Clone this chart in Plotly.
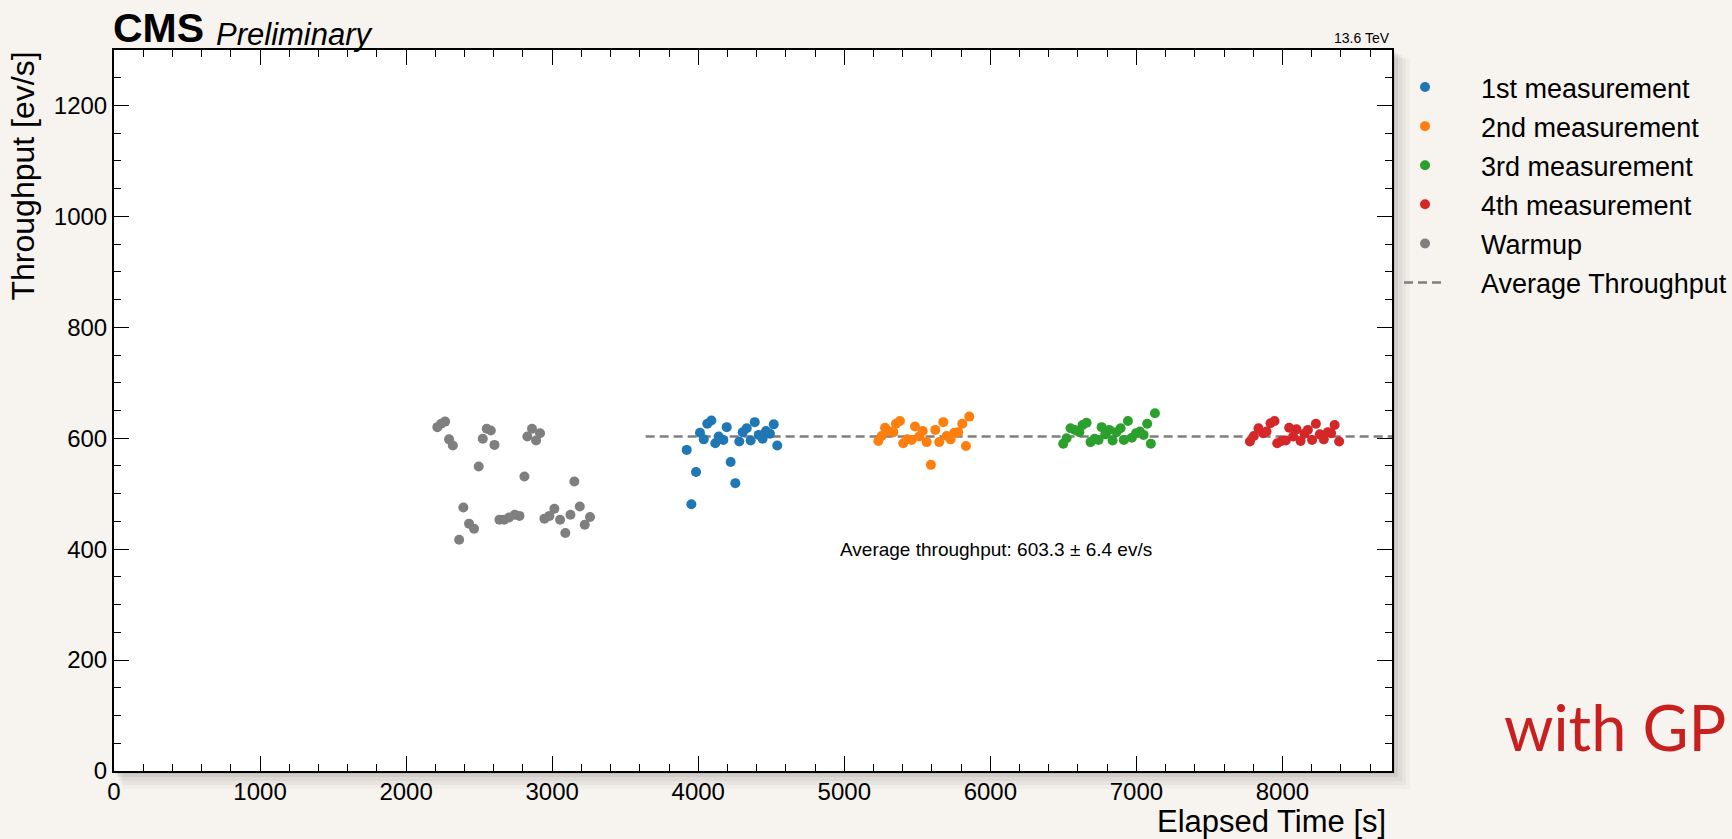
import plotly.graph_objects as go

# ---------------- data ----------------
warmup_t = [2214, 2240, 2267, 2294, 2320, 2363, 2392, 2431, 2465, 2497, 2525, 2552, 2580, 2605,
            2639, 2671, 2705, 2744, 2776, 2810, 2830, 2862, 2890, 2917, 2947, 2981, 3015, 3054,
            3090, 3125, 3152, 3189, 3223, 3259]
warmup_v = [620, 626, 630, 598, 587, 417, 475, 446, 437, 549, 599, 617, 614, 588,
            453, 453, 457, 462, 460, 531, 603, 617, 596, 609, 455, 460, 473, 453,
            429, 462, 522, 477, 444, 458]

m1_t = [3921, 3953, 3985, 4012, 4038, 4062, 4090, 4117, 4140, 4172, 4195, 4222, 4254, 4281,
        4305, 4332, 4359, 4387, 4414, 4441, 4464, 4491, 4517, 4541]
m1_v = [579, 481, 539, 610, 598, 626, 632, 591, 603, 597, 620, 557, 519, 594,
        611, 618, 596, 629, 606, 599, 613, 608, 625, 587]

m2_t = [5233, 5256, 5279, 5313, 5336, 5354, 5381, 5404, 5431, 5461, 5484, 5513, 5537, 5564,
        5593, 5623, 5650, 5678, 5701, 5728, 5753, 5780, 5808, 5833, 5856]
m2_v = [595, 604, 619, 612, 611, 626, 631, 591, 598, 597, 621, 603, 613, 593,
        552, 615, 593, 629, 604, 598, 610, 611, 626, 586, 639]

m3_t = [6499, 6522, 6549, 6579, 6609, 6632, 6659, 6686, 6714, 6741, 6762, 6787, 6814, 6837,
        6864, 6892, 6914, 6942, 6969, 6997, 7024, 7049, 7074, 7099, 7127]
m3_v = [590, 600, 618, 615, 611, 624, 628, 593, 599, 597, 620, 607, 615, 596,
        611, 618, 597, 631, 601, 609, 612, 606, 626, 590, 645]

m4_t = [7777, 7804, 7836, 7868, 7891, 7918, 7946, 7964, 7994, 8023, 8046, 8073, 8096, 8124,
        8151, 8174, 8203, 8229, 8256, 8283, 8311, 8333, 8357, 8388]
m4_v = [594, 604, 618, 609, 612, 627, 631, 591, 595, 596, 619, 603, 616, 595,
        608, 615, 597, 626, 607, 598, 611, 609, 624, 594]

avg_value = 603.3
avg_err = 6.4
avg_span = [3640, 8750]

series_names = ["1st measurement", "2nd measurement", "3rd measurement", "4th measurement", "Warmup"]
series_colors = ["#1f77b4", "#ff7f0e", "#2ca02c", "#d62728", "#7f7f7f"]

x_range = [0, 8750]
y_range = [0, 1300]

# ---------------- figure ----------------
FONT = "Liberation Sans, Arial, Helvetica, sans-serif"
PAD = "\u00a0" * 4  # gap between legend symbol and label
BG = "#f7f3ef"

fig = go.Figure()

# average line first (drawn beneath the points), ranked last in legend
fig.add_trace(go.Scatter(
    x=avg_span, y=[avg_value, avg_value], mode="lines",
    line=dict(color="#7f7f7f", width=2.5, dash="9px,5px"),
    name=PAD + "Average Throughput", legendgroup="g6", legendrank=6, hoverinfo="skip"))

all_series = [(m1_t, m1_v), (m2_t, m2_v), (m3_t, m3_v), (m4_t, m4_v), (warmup_t, warmup_v)]
for i, ((xs, ys), nm, col) in enumerate(zip(all_series, series_names, series_colors)):
    fig.add_trace(go.Scatter(
        x=xs, y=ys, mode="markers", name=PAD + nm,
        marker=dict(color=col, size=10, line=dict(width=0)),
        legendgroup="g%d" % (i + 1), legendrank=i + 1))

# plot-area drop shadow + white face (paper shapes beneath traces)
dx = 1.0 / 1278
dy = 1.0 / 721
shapes = []
for off, op in [(18, 0.025), (14, 0.035), (10, 0.045), (6, 0.055), (3, 0.07)]:
    shapes.append(dict(type="rect", xref="paper", yref="paper", layer="below",
                       x0=off * dx * 0.5, x1=1 + off * dx, y0=-off * dy, y1=1 - off * dy * 0.5,
                       fillcolor="rgba(0,0,0,%g)" % op, line=dict(width=0)))
shapes.append(dict(type="rect", xref="paper", yref="paper", layer="below",
                   x0=0, x1=1, y0=0, y1=1, fillcolor="white", line=dict(width=0)))

axis_common = dict(
    showgrid=False, zeroline=False, showline=True, linecolor="black", linewidth=2,
    mirror="allticks", ticks="inside", ticklen=15, tickwidth=1.3, tickcolor="black",
    tickfont=dict(family=FONT, size=24, color="black"),
)

fig.update_layout(
    width=1732, height=839,
    margin=dict(l=114, r=340, t=50, b=68, autoexpand=False),
    paper_bgcolor=BG,
    plot_bgcolor="rgba(0,0,0,0)",
    font=dict(family=FONT, color="black"),
    shapes=shapes,
    xaxis=dict(range=x_range, dtick=1000, tick0=0, automargin=False, ticklabelstandoff=-2,
               minor=dict(dtick=200, ticks="inside", ticklen=7, tickwidth=1.1, tickcolor="black"),
               **axis_common),
    yaxis=dict(range=y_range, dtick=200, tick0=0, automargin=False,
               minor=dict(dtick=50, ticks="inside", ticklen=7, tickwidth=1.1, tickcolor="black"),
               **axis_common),
    showlegend=True,
    legend=dict(x=1.0055, xanchor="left", y=0.982, yanchor="top", xref="paper", yref="paper",
                bgcolor="rgba(0,0,0,0)", borderwidth=0,
                font=dict(family=FONT, size=27, color="black"),
                itemwidth=42, tracegroupgap=1, traceorder="grouped"),
    annotations=[
        dict(text="<b>CMS</b>", xref="paper", yref="paper", x=0, y=1, xanchor="left", yanchor="bottom",
             showarrow=False, font=dict(family=FONT, size=41, color="black"), xshift=-3, yshift=-3),
        dict(text="<i>Preliminary</i>", xref="paper", yref="paper", x=(214 - 114) / 1278, y=1,
             xanchor="left", yanchor="bottom", showarrow=False,
             font=dict(family=FONT, size=31, color="black"), yshift=-4),
        dict(text="13.6 TeV", xref="paper", yref="paper", x=1, y=1, xanchor="right", yanchor="bottom",
             showarrow=False, font=dict(family=FONT, size=14, color="black"), yshift=2),
        dict(text="Throughput [ev/s]", xref="paper", yref="paper", x=(22 - 114) / 1278, y=1,
             xanchor="center", yanchor="top", textangle=-90, showarrow=False,
             font=dict(family=FONT, size=32, color="black")),
        dict(text="Elapsed Time [s]", xref="paper", yref="paper", x=1, y=(771 - 821) / 721,
             xanchor="right", yanchor="middle", showarrow=False, xshift=-4,
             font=dict(family=FONT, size=31, color="black")),
        dict(text="Average throughput: %.1f \u00b1 %.1f ev/s" % (avg_value, avg_err),
             xref="x", yref="y", x=6040, y=400, xanchor="center", yanchor="middle",
             showarrow=False, font=dict(family=FONT, size=19, color="black")),
        dict(text="with GP", xref="paper", yref="paper", x=(1502 - 114) / 1278, y=(771 - 726) / 721,
             xanchor="left", yanchor="middle", showarrow=False,
             font=dict(family="Lato, Open Sans, sans-serif", size=63, color="#c8201e")),
    ],
)

fig.write_html(
    "out.html",
    config={"displayModeBar": False},
    post_script="document.body.style.margin='0';document.body.style.background='%s';" % BG,
)
